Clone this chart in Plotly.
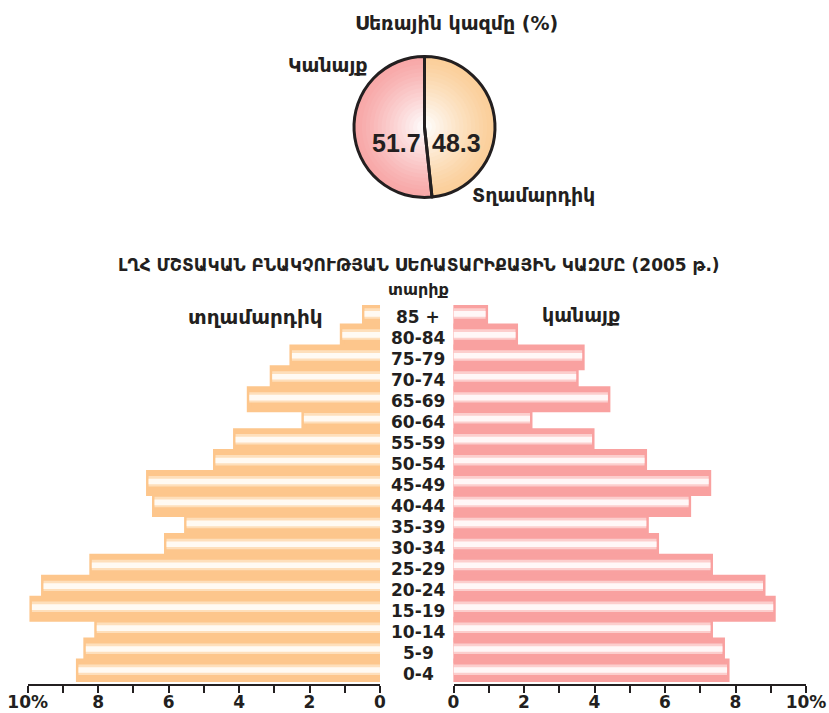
import plotly.graph_objects as go

# Age groups, bottom to top
ages = ["0-4", "5-9", "10-14", "15-19", "20-24", "25-29", "30-34", "35-39",
        "40-44", "45-49", "50-54", "55-59", "60-64", "65-69", "70-74",
        "75-79", "80-84", "85 +"]

# Share of each age group, % of the sex
men = [8.56, 8.35, 8.04, 9.88, 9.55, 8.18, 6.06, 5.49, 6.40, 6.57,
       4.67, 4.10, 2.16, 3.71, 3.06, 2.50, 1.07, 0.44]
women = [7.76, 7.63, 7.29, 9.07, 8.78, 7.29, 5.76, 5.47, 6.67, 7.24,
         5.42, 3.93, 2.17, 4.38, 3.48, 3.65, 1.76, 0.91]

# Sex composition (%)
sex_labels = ["Տղամարդիկ", "Կանայք"]
sex_shares = [48.3, 51.7]

tick_vals = [0, 1, 2, 3, 4, 5, 6, 7, 8, 9, 10]
tick_text = ["0", "", "2", "", "4", "", "6", "", "8", "", "10%"]

title_main = "ԼՂՀ ՄՇՏԱԿԱՆ ԲՆԱԿՉՈՒԹՅԱՆ ՍԵՌԱՏԱՐԻՔԱՅԻՆ ԿԱԶՄԸ (2005 թ.)"
title_age = "տարիք"
title_pie = "Սեռային կազմը (%)"
label_men = "տղամարդիկ"
label_women = "կանայք"

W, H = 829, 713
INK = "#231f20"
FONT = "DejaVu Sans"

ORANGE = "#fdc68c"
ORANGE_PALE = "#fedfbb"
ORANGE_CORE = "#fffaf3"
PINK = "#f9a1a0"
PINK_PALE = "#fccecd"
PINK_CORE = "#fff7f7"


def px_x(p):
    return p / W


def px_y(p):
    return (H - p) / H


fig = go.Figure()

# ---- pie: concentric layers give a soft radial shading ----
cx, cy, R = 424.5, 127.0, 70.5
edge_cols = [(251, 207, 154), (248, 168, 168)]   # men, women
n_layers = 18
for i in range(n_layers):
    t = i / (n_layers - 1)
    r = R * (1 - 0.95 * t)
    k = t ** 1.2
    cols = []
    for (er, eg, eb) in edge_cols:
        cols.append("rgb(%d,%d,%d)" % (er + (255 - er) * k * 0.97,
                                      eg + (255 - eg) * k * 0.97,
                                      eb + (255 - eb) * k * 0.97))
    fig.add_trace(go.Pie(
        values=sex_shares, labels=sex_labels, sort=False,
        direction="clockwise", rotation=0,
        marker=dict(colors=cols, line=dict(width=0)),
        textinfo="none", hoverinfo="skip", showlegend=False,
        domain=dict(x=[px_x(cx - r), px_x(cx + r)],
                    y=[px_y(cy + r), px_y(cy - r)]),
    ))
# outline and separator on top
fig.add_trace(go.Pie(
    values=sex_shares, labels=sex_labels, sort=False,
    direction="clockwise", rotation=0,
    marker=dict(colors=["rgba(0,0,0,0)", "rgba(0,0,0,0)"],
                line=dict(color=INK, width=3)),
    textinfo="none", hoverinfo="skip", showlegend=False,
    domain=dict(x=[px_x(cx - R), px_x(cx + R)],
                y=[px_y(cy + R), px_y(cy - R)]),
))

# ---- population pyramid ----
def add_side(values, axis, base_col, pale_col, core_col):
    fig.add_trace(go.Bar(
        y=ages, x=values, orientation="h", xaxis=axis, yaxis="y",
        width=1.0, marker=dict(color=base_col, line=dict(color=base_col, width=5)),
        showlegend=False, hoverinfo="skip"))
    fig.add_trace(go.Bar(
        y=ages, x=values, orientation="h", xaxis=axis, yaxis="y",
        width=0.5, offset=-0.16, marker=dict(color=pale_col, line=dict(width=0)),
        showlegend=False, hoverinfo="skip"))
    fig.add_trace(go.Bar(
        y=ages, x=values, orientation="h", xaxis=axis, yaxis="y",
        width=0.27, offset=-0.06, marker=dict(color=core_col, line=dict(width=0)),
        showlegend=False, hoverinfo="skip"))


add_side(men, "x", ORANGE, ORANGE_PALE, ORANGE_CORE)
add_side(women, "x2", PINK, PINK_PALE, PINK_CORE)

axis_common = dict(
    tickmode="array", tickvals=tick_vals, ticktext=tick_text,
    ticks="outside", ticklen=7, tickwidth=2, tickcolor=INK,
    showline=True, linewidth=2, linecolor=INK, showgrid=False,
    zeroline=False, anchor="free", position=px_y(685), automargin=False,
    ticklabelstandoff=-5,
    tickfont=dict(family=FONT, size=17, color=INK, weight="bold"),
    fixedrange=True,
)

fig.update_layout(
    width=W, height=H,
    margin=dict(l=0, r=0, t=0, b=0),
    paper_bgcolor="white", plot_bgcolor="rgba(0,0,0,0)",
    barmode="overlay",
    xaxis=dict(domain=[px_x(27.7), px_x(380)], range=[10, 0], **axis_common),
    xaxis2=dict(domain=[px_x(453.5), px_x(806)], range=[0, 10], **axis_common),
    yaxis=dict(domain=[px_y(682), px_y(305)], type="category",
               categoryorder="array", categoryarray=ages, automargin=False,
               range=[-0.5, len(ages) - 0.5], visible=False, fixedrange=True),
)

bold = dict(family=FONT, color=INK, weight="bold")
ann = []
for a in ages:
    ann.append(dict(text=a, x=px_x(418), xref="paper", y=a, yref="y",
                    yshift=-2, showarrow=False, xanchor="center",
                    font=dict(size=17, **bold)))

# pie values
ann.append(dict(text="%.1f" % sex_shares[1], x=px_x(396), y=px_y(127),
                xref="paper", yref="paper", showarrow=False,
                font=dict(family="Liberation Sans", size=25, color=INK, weight="bold")))
ann.append(dict(text="%.1f" % sex_shares[0], x=px_x(456), y=px_y(127),
                xref="paper", yref="paper", showarrow=False,
                font=dict(family="Liberation Sans", size=25, color=INK, weight="bold")))

# text labels
texts = [
    (title_pie, 457, 23, 19),
    (sex_labels[1], 328, 65, 19),
    (sex_labels[0], 533, 195, 19),
    (title_main, 419, 265, 17),
    (title_age, 418, 289, 16),
    (label_men, 256, 317, 20),
    (label_women, 581, 315, 19),
]
for t, x, y, s in texts:
    ann.append(dict(text=t, x=px_x(x), y=px_y(y), xref="paper", yref="paper",
                    showarrow=False, xanchor="center", yanchor="middle",
                    font=dict(size=s, **bold)))

fig.update_layout(annotations=ann)

fig.write_html("out.html")
